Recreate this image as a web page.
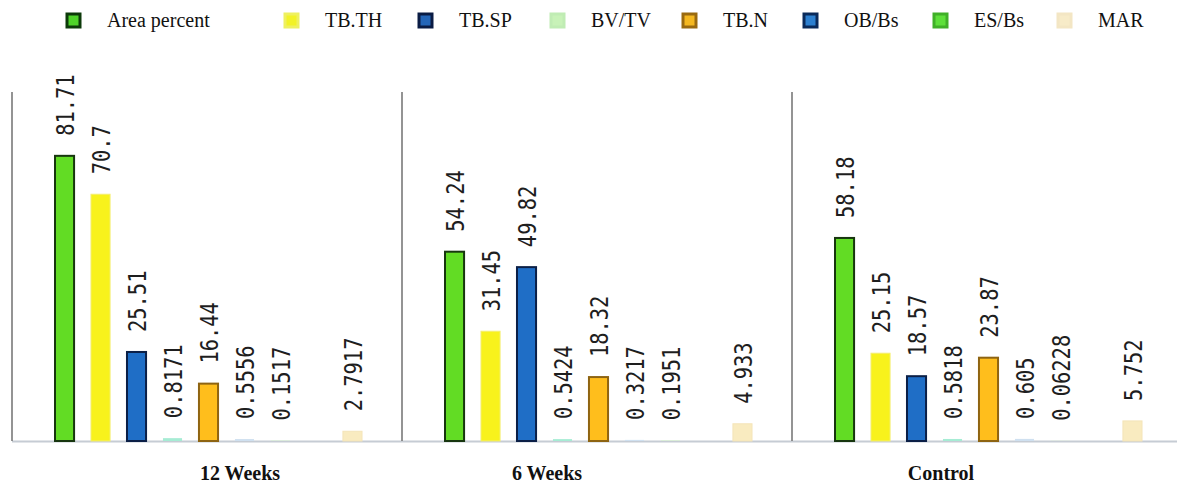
<!DOCTYPE html>
<html>
<head>
<meta charset="utf-8">
<script src="https://cdn.jsdelivr.net/npm/d3@7"></script>
<style>
  body { margin: 0; background: #fff; }
  svg { display: block; }
  .serif { font-family: 'Liberation Serif', 'Times New Roman', Times, 'DejaVu Serif', serif; }
</style>
</head>
<body>
<div id="chart"></div>
<script>
// chart values
const groups = ['12 Weeks', '6 Weeks', 'Control']
const seriesNames = ['Area percent', 'TB.TH', 'TB.SP', 'BV/TV', 'TB.N', 'OB/Bs', 'ES/Bs', 'MAR']
const areaPercent = [81.71, 54.24, 58.18]
const tbTH = [70.7, 31.45, 25.15]
const tbSP = [25.51, 49.82, 18.57]
const bvTV = [0.8171, 0.5424, 0.5818]
const tbN = [16.44, 18.32, 23.87]
const obBs = [0.5556, 0.3217, 0.605]
const esBs = [0.1517, 0.1951, 0.06228]
const mar = [2.7917, 4.933, 5.752]
const seriesValues = [areaPercent, tbTH, tbSP, bvTV, tbN, obBs, esBs, mar]

// look of each series: fill, outline
const fills = ['#62dc24', '#f8f21c', '#1f6ec6', '#a6ecd4', '#ffbe1c', '#cfe0f0', '#d8f0d0', '#f9ebc0']
const strokes = ['#17360f', '#f4ee70', '#0b1f46', '#9fe0d0', '#8e6412', '#cfe0f0', '#d8f0d0', '#f4e4b8']
const legendFills = ['#4fd42a', '#f2f226', '#2466b8', '#c8f2b8', '#f5b820', '#2d80d0', '#5ee03a', '#f7ebc8']
const legendStrokes = ['#0d3a0a', '#eef060', '#0a1c44', '#c0ecb4', '#9a6a10', '#0a2a5a', '#40b028', '#f3e6c4']

// layout
const width = 1177
const height = 485
const legendX = [65, 283, 417, 549, 681, 802, 932, 1056]
const groupLabelNudge = [33, -50, -46]

// one slot left empty before MAR, as in the picture
const slotOrder = seriesNames.slice(0, 7).concat(['_gap', 'MAR'])

const svg = d3
  .select('#chart')
  .append('svg')
  .attr('width', width)
  .attr('height', height)

const xGroup = d3
  .scaleBand()
  .domain(groups)
  .range([12, 12 + 390 * 3])

const xSlot = d3
  .scaleBand()
  .domain(slotOrder)
  .range([43, 350])
  .paddingInner(0.47)
  .paddingOuter(0)

const yScale = d3
  .scaleLinear()
  .domain([0, 100])
  .range([441, 92])

// long grey base line
svg
  .append('line')
  .attr('x1', 12)
  .attr('x2', width)
  .attr('y1', yScale(0) + 0.5)
  .attr('y2', yScale(0) + 0.5)
  .attr('stroke', '#c6ccd4')
  .attr('stroke-width', 2)

// one vertical axis line per group
svg
  .selectAll('.panel-line')
  .data(groups)
  .enter()
  .append('line')
  .attr('class', 'panel-line')
  .attr('x1', d => xGroup(d))
  .attr('x2', d => xGroup(d))
  .attr('y1', yScale(100))
  .attr('y2', yScale(0))
  .attr('stroke', '#707070')
  .attr('stroke-width', 1.5)

const bars = []
groups.forEach((g, gi) => {
  seriesNames.forEach((s, si) => {
    bars.push({ group: g, series: s, idx: si, value: seriesValues[si][gi] })
  })
})

const bw = xSlot.bandwidth()

svg
  .selectAll('.bar')
  .data(bars)
  .enter()
  .append('rect')
  .attr('class', 'bar')
  .attr('x', d => xGroup(d.group) + xSlot(d.series))
  .attr('y', d => yScale(d.value))
  .attr('width', bw)
  .attr('height', d => yScale(0) - yScale(d.value))
  .attr('fill', d => fills[d.idx])
  .attr('stroke', d => strokes[d.idx])
  .attr('stroke-width', d => (yScale(0) - yScale(d.value) < 4 ? 0 : d.idx === 1 || d.idx === 7 ? 1 : 2))

// value labels, turned on their side
svg
  .selectAll('.value-label')
  .data(bars)
  .enter()
  .append('text')
  .attr('class', 'value-label')
  .attr('transform', d => {
    const cx = xGroup(d.group) + xSlot(d.series) + bw / 2 + 1
    const cy = yScale(d.value) - 20
    return 'translate(' + cx + ',' + cy + ') rotate(-90) scale(0.85,1)'
  })
  .attr('dy', '0.36em')
  .attr('text-anchor', 'start')
  .style('font-family', '"DejaVu Sans Mono", monospace')
  .style('font-size', '24px')
  .attr('fill', '#1e1e1e')
  .text(d => d.value)

// group names under the bars
svg
  .selectAll('.group-label')
  .data(groups)
  .enter()
  .append('text')
  .attr('class', 'group-label serif')
  .attr('x', (d, i) => xGroup(d) + xGroup.bandwidth() / 2 + groupLabelNudge[i])
  .attr('y', 480)
  .attr('text-anchor', 'middle')
  .style('font-weight', 'bold')
  .style('font-size', '20px')
  .attr('fill', '#111')
  .text(d => d)

// legend across the top
const legend = svg
  .selectAll('.legend')
  .data(seriesNames)
  .enter()
  .append('g')
  .attr('class', 'legend')
  .attr('transform', (d, i) => 'translate(' + legendX[i] + ',0)')

legend
  .append('rect')
  .attr('x', 2)
  .attr('y', 14)
  .attr('width', 13)
  .attr('height', 13)
  .attr('fill', (d, i) => legendFills[i])
  .attr('stroke', (d, i) => legendStrokes[i])
  .attr('stroke-width', 3)

legend
  .append('text')
  .attr('class', 'serif')
  .attr('x', 42)
  .attr('y', 27)
  .style('font-size', '20px')
  .attr('fill', '#111')
  .text(d => d)
</script>
</body>
</html>
